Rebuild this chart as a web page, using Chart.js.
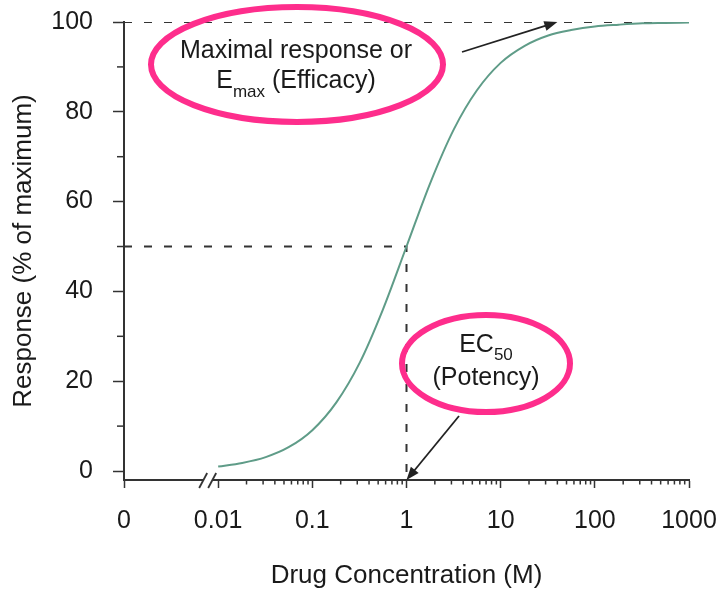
<!DOCTYPE html>
<html>
<head>
<meta charset="utf-8">
<script src="https://cdn.jsdelivr.net/npm/chart.js@4.4.1/dist/chart.umd.min.js"></script>
<style>
  body { margin: 0; background: #fff; }
  #wrap { width: 720px; height: 594px; }
</style>
</head>
<body>
<div id="wrap"><canvas id="myChart"></canvas></div>
<script>
// values
const concentrations = [0.01, 0.018, 0.032, 0.056, 0.1, 0.18, 0.32, 0.56, 1, 1.8, 3.2, 5.6, 10, 18, 32, 56, 100, 180, 320, 560, 1000];
const responses = [1, 1.8, 3.1, 5.3, 9.1, 15.3, 24.2, 35.9, 50, 64.3, 76.2, 84.8, 90.9, 94.7, 97, 98.2, 99, 99.4, 99.7, 99.8, 99.9];

const xTickValues = [0.001, 0.01, 0.1, 1, 10, 100, 1000];
const xTickLabels = ['0', '0.01', '0.1', '1', '10', '100', '1000'];
const xMinorDecades = [0.01, 0.1, 1, 10, 100];
const xMinorSteps = [2, 3, 4, 5, 6, 7, 8, 9];
const yTickValues = [0, 20, 40, 60, 80, 100];
const yMinorValues = [10, 30, 50, 70, 90];

const ec50 = 1;
const ec50Response = 50;
const emax = 100;
const emaxArrowAt = 40;

const FONT = '"Liberation Sans", Arial, Helvetica, sans-serif';
const PINK = '#fe2d8c';
const INK = '#1a1a1a';
const AXIS = '#333';

function drawRich(ctx, parts, cx, baseline) {
  let total = 0;
  parts.forEach(p => {
    ctx.font = `${p.size}px ${FONT}`;
    p.w = ctx.measureText(p.t).width;
    total += p.w;
  });
  let x = cx - total / 2;
  ctx.textAlign = 'left';
  ctx.textBaseline = 'alphabetic';
  parts.forEach(p => {
    ctx.font = `${p.size}px ${FONT}`;
    ctx.fillText(p.t, x, baseline + (p.dy || 0));
    x += p.w;
  });
}

function arrow(ctx, x1, y1, x2, y2) {
  const a = Math.atan2(y2 - y1, x2 - x1);
  const len = 13, half = 5;
  ctx.beginPath();
  ctx.moveTo(x1, y1);
  ctx.lineTo(x2 - Math.cos(a) * len * 0.8, y2 - Math.sin(a) * len * 0.8);
  ctx.stroke();
  ctx.beginPath();
  ctx.moveTo(x2, y2);
  ctx.lineTo(x2 - Math.cos(a) * len + Math.sin(a) * half, y2 - Math.sin(a) * len - Math.cos(a) * half);
  ctx.lineTo(x2 - Math.cos(a) * len - Math.sin(a) * half, y2 - Math.sin(a) * len + Math.cos(a) * half);
  ctx.closePath();
  ctx.fill();
}

const extras = {
  id: 'extras',
  afterDraw(chart) {
    const ctx = chart.ctx;
    const xs = chart.scales.x, ys = chart.scales.y;
    const area = chart.chartArea;
    ctx.save();

    // minor ticks
    ctx.strokeStyle = AXIS;
    ctx.lineWidth = 1.5;
    yMinorValues.forEach(v => {
      const y = ys.getPixelForValue(v);
      ctx.beginPath(); ctx.moveTo(area.left - 7, y); ctx.lineTo(area.left, y); ctx.stroke();
    });
    xMinorDecades.forEach(d => xMinorSteps.forEach(s => {
      const x = xs.getPixelForValue(d * s);
      ctx.beginPath(); ctx.moveTo(x, area.bottom); ctx.lineTo(x, area.bottom + 4.5); ctx.stroke();
    }));

    // axis break
    const p01 = xs.getPixelForValue(0.01);
    const yb = area.bottom;
    ctx.fillStyle = '#fff';
    ctx.fillRect(p01 - 15, yb - 3, 9, 6);
    ctx.strokeStyle = AXIS;
    ctx.lineWidth = 1.8;
    [p01 - 15, p01 - 6].forEach(c => {
      ctx.beginPath(); ctx.moveTo(c - 4, yb + 8); ctx.lineTo(c + 4, yb - 7); ctx.stroke();
    });

    // arrows
    ctx.strokeStyle = '#222';
    ctx.fillStyle = '#222';
    ctx.lineWidth = 1.8;
    arrow(ctx, 462, 52, xs.getPixelForValue(emaxArrowAt), ys.getPixelForValue(emax));
    arrow(ctx, 459, 416, xs.getPixelForValue(ec50), area.bottom);

    // ellipses
    ctx.strokeStyle = PINK;
    ctx.lineWidth = 6;
    ctx.beginPath(); ctx.ellipse(297, 64.5, 146, 57.5, 0, 0, Math.PI * 2); ctx.stroke();
    ctx.beginPath(); ctx.ellipse(486, 363.5, 84, 48.5, 0, 0, Math.PI * 2); ctx.stroke();

    // annotation text
    ctx.fillStyle = INK;
    drawRich(ctx, [{t: 'Maximal response or', size: 25}], 296, 58);
    drawRich(ctx, [{t: 'E', size: 25}, {t: 'max', size: 17, dy: 9}, {t: ' (Efficacy)', size: 25}], 296, 88);
    drawRich(ctx, [{t: 'EC', size: 25}, {t: '50', size: 17, dy: 8}], 486, 352);
    drawRich(ctx, [{t: '(Potency)', size: 25}], 486, 385);
    ctx.restore();
  }
};

const myChart = new Chart('myChart', {
  type: 'line',
  data: {
    datasets: [
      {
        label: 'Response',
        data: concentrations.map((c, i) => ({x: c, y: responses[i]})),
        borderColor: '#5f9c88',
        borderWidth: 2,
        pointRadius: 0,
        fill: false,
        cubicInterpolationMode: 'monotone'
      },
      {
        label: 'Emax',
        data: [{x: 0.001, y: emax}, {x: 1000, y: emax}],
        borderColor: AXIS,
        borderWidth: 2,
        borderDash: [8, 12],
        pointRadius: 0,
        tension: 0
      },
      {
        label: 'EC50',
        data: [{x: 0.001, y: ec50Response}, {x: ec50, y: ec50Response}, {x: ec50, y: -2}],
        borderColor: AXIS,
        borderWidth: 2,
        borderDash: [8, 12],
        pointRadius: 0,
        tension: 0
      }
    ]
  },
  options: {
    responsive: true,
    maintainAspectRatio: false,
    animation: false,
    layout: { padding: { top: 22, right: 31, left: 0, bottom: 0 } },
    plugins: {
      legend: { display: false },
      tooltip: { enabled: false }
    },
    scales: {
      x: {
        type: 'logarithmic',
        min: 0.001,
        max: 1000,
        afterBuildTicks: (scale) => { scale.ticks = xTickValues.map(v => ({value: v})); },
        afterFit: (scale) => {
          scale.height = 114;
          scale.paddingLeft = 0;
          scale.paddingRight = 0;
        },
        ticks: {
          autoSkip: false,
          maxRotation: 0,
          padding: 18,
          color: INK,
          font: { family: FONT, size: 25 },
          callback: (v, i) => xTickLabels[i]
        },
        grid: { drawOnChartArea: false, tickLength: 8, tickColor: AXIS, tickWidth: 1.5 },
        border: { display: true, color: AXIS, width: 2 },
        title: {
          display: true,
          text: 'Drug Concentration (M)',
          color: INK,
          font: { family: FONT, size: 26 },
          padding: { top: 0, bottom: 3 }
        }
      },
      y: {
        type: 'linear',
        min: -2,
        max: 100,
        afterBuildTicks: (scale) => { scale.ticks = yTickValues.map(v => ({value: v})); },
        afterFit: (scale) => {
          scale.width = 124;
          scale.paddingTop = 0;
          scale.paddingBottom = 0;
        },
        ticks: {
          padding: 20,
          color: INK,
          font: { family: FONT, size: 25 }
        },
        grid: { drawOnChartArea: false, tickLength: 11, tickColor: AXIS, tickWidth: 1.5 },
        border: { display: true, color: AXIS, width: 2 },
        title: {
          display: true,
          text: 'Response (% of maximum)',
          color: INK,
          font: { family: FONT, size: 26 },
          padding: { top: 8, bottom: 0 }
        }
      }
    }
  },
  plugins: [extras]
});
</script>
</body>
</html>
